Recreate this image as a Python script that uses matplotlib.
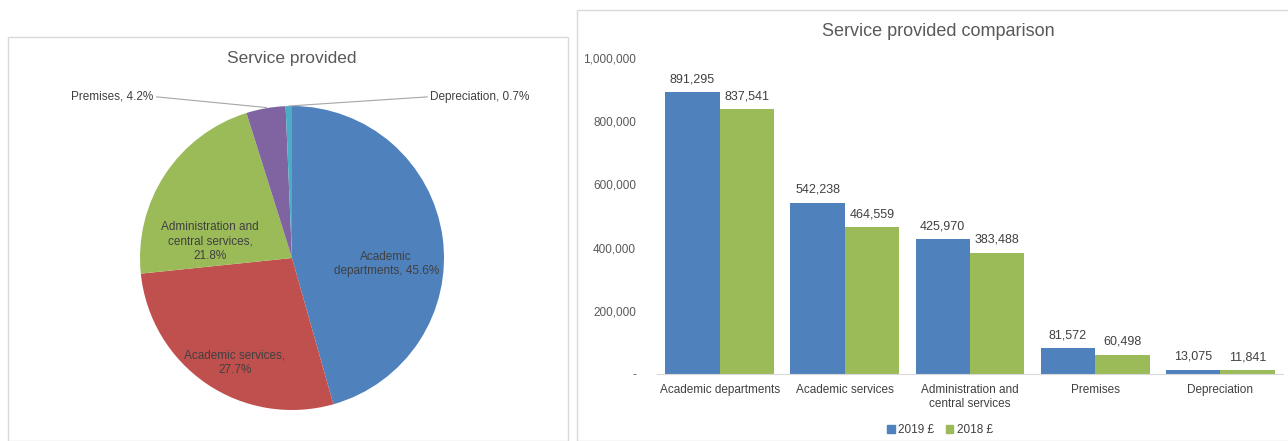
import numpy as np
import matplotlib
matplotlib.use('Agg')
import matplotlib.pyplot as plt
from matplotlib.patches import Rectangle, Patch
from matplotlib.ticker import FuncFormatter

plt.rcParams['font.family'] = ['Liberation Sans', 'DejaVu Sans']

categories = ['Academic departments', 'Academic services',
              'Administration and\ncentral services', 'Premises', 'Depreciation']
pie_labels = ['Academic\ndepartments, 45.6%', 'Academic services,\n27.7%',
              'Administration and\ncentral services,\n21.8%', 'Premises, 4.2%',
              'Depreciation, 0.7%']
values_2019 = [891295, 542238, 425970, 81572, 13075]
values_2018 = [837541, 464559, 383488, 60498, 11841]
series_names = ['2019 £', '2018 £']

blue = '#4F81BD'
red = '#C0504D'
green = '#9BBB59'
purple = '#8064A2'
cyan = '#4BACC6'
txt = '#595959'
dark = '#404040'

W, H = 1288, 441
fig = plt.figure(figsize=(W / 100, H / 100), dpi=100)

# panel frames
fig.add_artist(Rectangle((8 / W, 0), (568 - 8) / W, (H - 37) / H, transform=fig.transFigure,
                         fill=False, edgecolor='#D9D9D9', lw=1))
fig.add_artist(Rectangle((577 / W, 0), (W + 5 - 577) / W, (H - 10) / H, transform=fig.transFigure,
                         fill=False, edgecolor='#D9D9D9', lw=1))

# ---- pie ----
cx, cy, r = 292, 258, 152
axp = fig.add_axes([(cx - r) / W, (H - cy - r) / H, 2 * r / W, 2 * r / H])
wedges, _ = axp.pie(values_2019, colors=[blue, red, green, purple, cyan], startangle=90,
                    counterclock=False, radius=1, wedgeprops=dict(linewidth=0))
axp.set_xlim(-1, 1)
axp.set_ylim(-1, 1)
axp.set_aspect('equal')
axp.axis('off')

inside = [(0.62, -0.04), (-0.375, -0.69), (-0.54, 0.11)]
for lab, (x, y) in zip(pie_labels[:3], inside):
    axp.text(x, y, lab, ha='center', va='center', fontsize=8.5, color=dark,
             linespacing=1.3)

axp.text(-0.91, 1.06, pie_labels[3], ha='right', va='center', fontsize=8.5, color=dark,
         clip_on=False)
axp.plot([-0.89, -0.17], [1.06, 0.99], color='#A6A6A6', lw=0.8, clip_on=False)
axp.text(0.91, 1.06, pie_labels[4], ha='left', va='center', fontsize=8.5, color=dark,
         clip_on=False)
axp.plot([-0.02, 0.89], [1.0, 1.06], color='#A6A6A6', lw=0.8, clip_on=False)

fig.text(292 / W, 1 - 58 / H, 'Service provided', ha='center', va='center',
         fontsize=12.5, color=txt)

# ---- bars ----
axb = fig.add_axes([657 / W, (H - 374) / H, (1283 - 657) / W, (374 - 58) / H])
x = np.arange(len(categories))
bw = 0.435
b1 = axb.bar(x - bw / 2, values_2019, bw, color=blue, label=series_names[0])
b2 = axb.bar(x + bw / 2, values_2018, bw, color=green, label=series_names[1])
for bars in (b1, b2):
    for rect in bars:
        v = rect.get_height()
        axb.annotate(f'{v:,.0f}', (rect.get_x() + rect.get_width() / 2, v),
                     xytext=(0, 5), textcoords='offset points', ha='center', va='bottom',
                     fontsize=9, color=dark)
axb.set_xlim(-0.5, len(categories) - 0.5)
axb.set_ylim(0, 1000000)
axb.set_yticks(np.arange(0, 1000001, 200000))
axb.yaxis.set_major_formatter(FuncFormatter(lambda v, p: '-' if v == 0 else f'{v:,.0f}'))
axb.set_xticks(x)
axb.set_xticklabels(categories, linespacing=1.2)
axb.tick_params(axis='y', length=0, pad=15, labelsize=8.5, labelcolor=txt)
axb.tick_params(axis='x', length=0, pad=7, labelsize=8.5, labelcolor=dark)
for s in ('top', 'right', 'left'):
    axb.spines[s].set_visible(False)
axb.spines['bottom'].set_color('#D9D9D9')

fig.text(938 / W, 1 - 31 / H, 'Service provided comparison', ha='center', va='center',
         fontsize=13, color=txt)

handles = [Patch(color=blue), Patch(color=green)]
fig.legend(handles, series_names, loc='center', bbox_to_anchor=(940 / W, 1 - 430 / H),
           ncol=2, frameon=False, fontsize=8.5, handlelength=0.6, handleheight=0.6,
           handletextpad=0.3, columnspacing=1.0, labelcolor=dark)

fig.savefig('out.png', dpi=100)
